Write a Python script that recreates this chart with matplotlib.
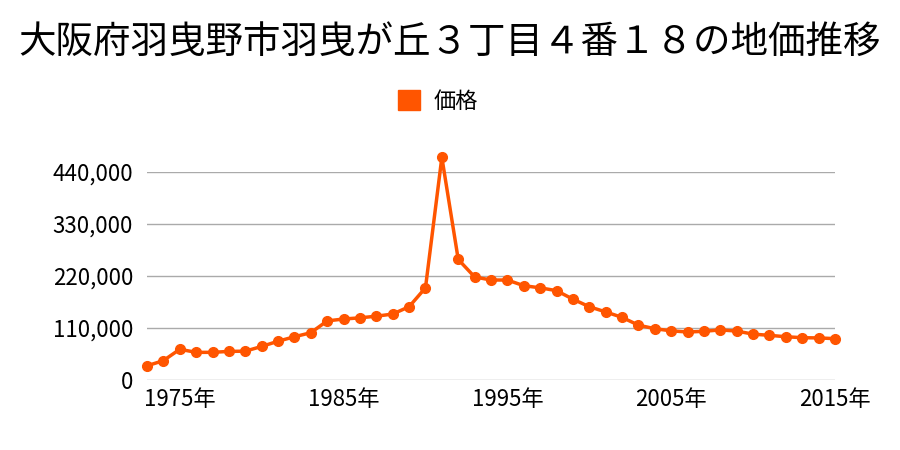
import matplotlib.pyplot as plt
from matplotlib.patches import Patch
from matplotlib.ticker import FuncFormatter

plt.rcParams['font.family'] = ['Noto Sans CJK JP', 'DejaVu Sans']

years = list(range(1973, 2016))
prices = [
    30000, 41000, 65000, 58500, 58500, 60500, 61000, 71000, 82000, 91500,
    100000, 125000, 129000, 131500, 135000, 139500, 155000, 195000, 471000, 255000,
    218000, 211500, 211500, 199500, 195000, 189000, 171000, 155000, 144000, 132500,
    116000, 108500, 104000, 101500, 103000, 106000, 103500, 97000, 94500, 91500,
    89500, 89000, 87500,
]
yticks = [0, 110000, 220000, 330000, 440000]
xticks = [1975, 1985, 1995, 2005, 2015]

title = "大阪府羽曳野市羽曳が丘３丁目４番１８の地価推移"
color = "#ff5500"

fig = plt.figure(figsize=(9, 4.5), dpi=100)
ax = fig.add_axes([147 / 900, 1 - 380 / 450, (835 - 147) / 900, (380 - 172) / 450])

# price line
ax.plot(years, prices, color=color, lw=2.5, marker="o", markersize=7,
        clip_on=False, zorder=3)

ax.set_xlim(1973, 2015)
ax.set_ylim(0, 440000)
ax.set_yticks(yticks)
ax.set_xticks(xticks)
ax.set_xticklabels([f"{y}年" for y in xticks])
ax.yaxis.set_major_formatter(FuncFormatter(lambda v, p: f"{int(v):,}"))

ax.grid(axis="y", color="#aaaaaa", lw=1)
for s in ax.spines.values():
    s.set_visible(False)
ax.tick_params(length=0, labelsize=16)
ax.tick_params(axis="y", pad=10)
ax.tick_params(axis="x", pad=6)

fig.text(0.5, 1 - 42 / 450, title, ha="center", va="center", fontsize=27)

fig.legend([Patch(color=color)], ["価格"], loc="center",
           bbox_to_anchor=(0.487, 1 - 101 / 450), frameon=False, fontsize=16,
           handlelength=1.0, handleheight=1.0, handletextpad=0.6)

fig.savefig("out.png", dpi=100)
